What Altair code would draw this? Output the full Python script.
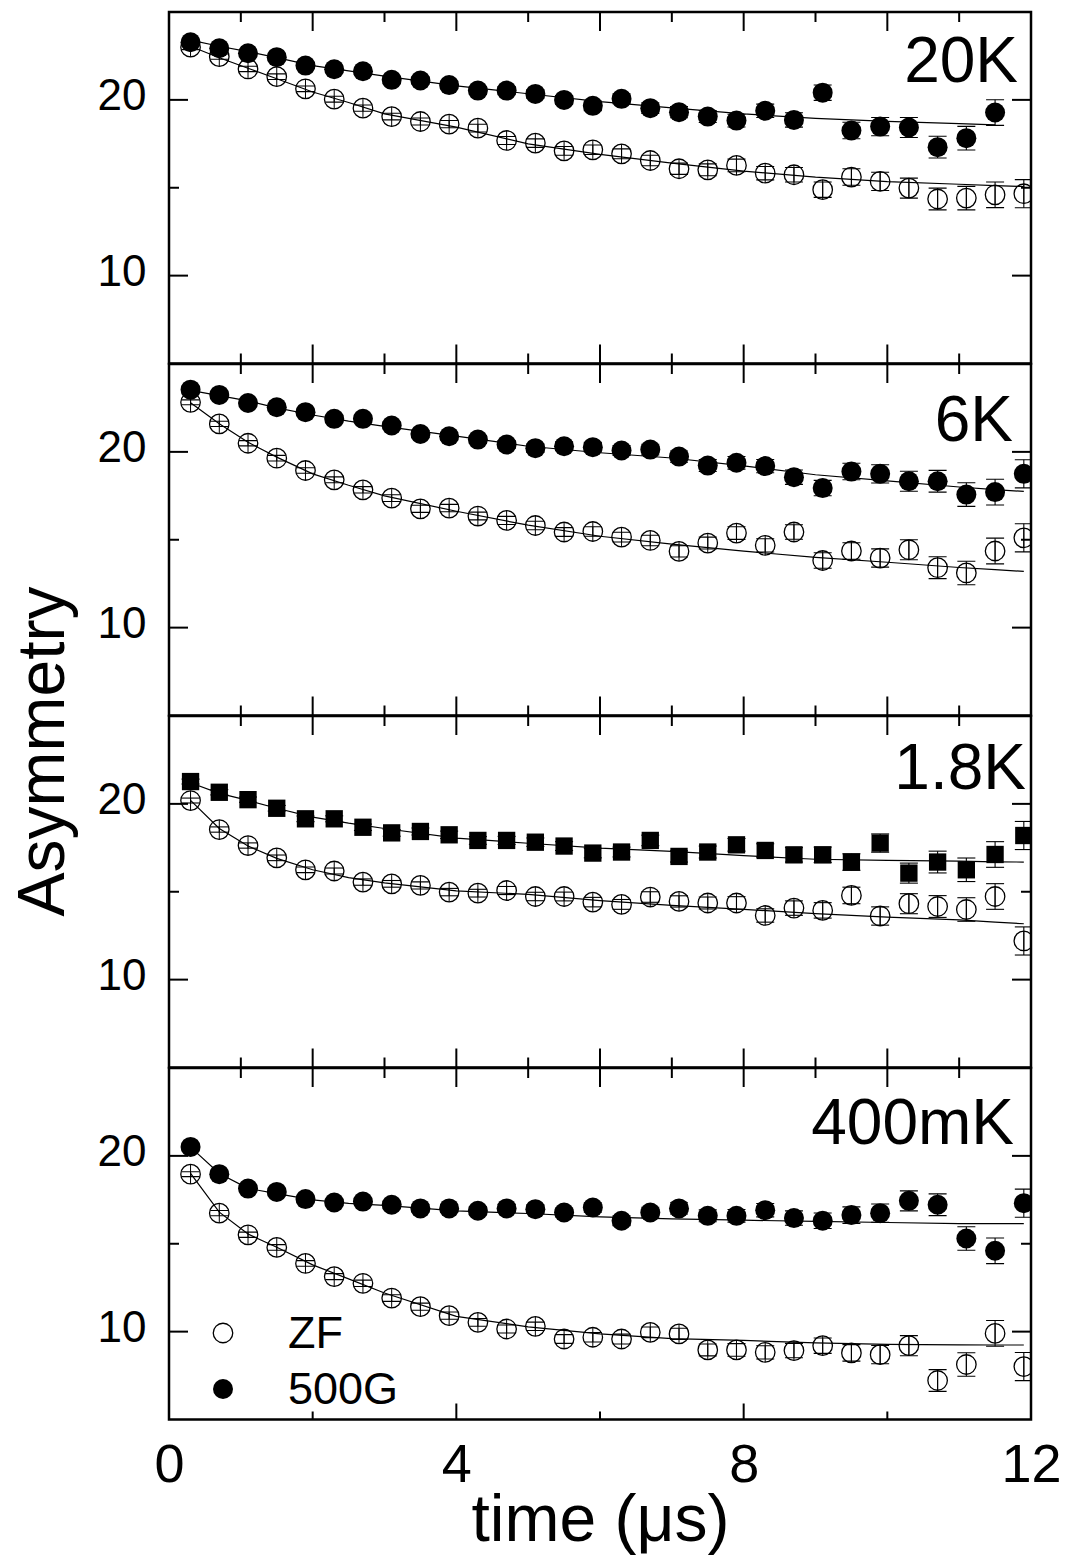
import altair as alt
import pandas as pd

# ---------------- data ----------------
time = [0.3, 0.7, 1.1, 1.5, 1.9, 2.3, 2.7, 3.1, 3.5, 3.9, 4.3, 4.7, 5.1, 5.5, 5.9,
        6.3, 6.7, 7.1, 7.5, 7.9, 8.3, 8.7, 9.1, 9.5, 9.9, 10.3, 10.7, 11.1, 11.5, 11.9]
err = [0.14, 0.15, 0.15, 0.16, 0.16, 0.17, 0.18, 0.19, 0.20, 0.21, 0.22, 0.23, 0.24, 0.25, 0.27,
       0.28, 0.30, 0.32, 0.34, 0.36, 0.38, 0.41, 0.44, 0.47, 0.52, 0.57, 0.62, 0.67, 0.73, 0.80]

zf_20K = [23.0, 22.46, 21.76, 21.32, 20.63, 20.04, 19.53, 19.05, 18.77, 18.62, 18.39, 17.69, 17.54, 17.10, 17.16,
          16.93, 16.55, 16.08, 16.02, 16.27, 15.83, 15.74, 14.89, 15.61, 15.36, 14.98, 14.36, 14.41, 14.60, 14.66]
lf_20K = [23.28, 22.94, 22.65, 22.43, 21.95, 21.74, 21.63, 21.14, 21.10, 20.84, 20.53, 20.53, 20.34, 20.0, 19.66,
          20.06, 19.53, 19.30, 19.05, 18.82, 19.38, 18.86, 20.41, 18.26, 18.48, 18.43, 17.31, 17.82, 19.28, None]

zf_6K = [22.82, 21.59, 20.49, 19.64, 18.94, 18.41, 17.84, 17.37, 16.76, 16.80, 16.35, 16.10, 15.81, 15.44, 15.47,
         15.15, 14.96, 14.34, 14.81, 15.38, 14.68, 15.44, 13.82, 14.36, 13.96, 14.43, 13.41, 13.11, 14.36, 15.11]
lf_6K = [23.54, 23.24, 22.78, 22.54, 22.26, 21.88, 21.88, 21.5, 21.02, 20.89, 20.70, 20.42, 20.21, 20.32, 20.27,
         20.08, 20.13, 19.73, 19.22, 19.38, 19.19, 18.56, 17.94, 18.88, 18.75, 18.33, 18.33, 17.57, 17.71, 18.75]

zf_1p8K = [20.19, 18.54, 17.63, 16.93, 16.25, 16.18, 15.55, 15.45, 15.36, 14.98, 14.92, 15.07, 14.73, 14.73, 14.41,
           14.28, 14.70, 14.45, 14.36, 14.36, 13.65, 14.07, 13.94, 14.79, 13.62, 14.32, 14.16, 13.99, 14.73, 12.2]
lf_1p8K = [21.27, 20.66, 20.24, 19.75, 19.15, 19.15, 18.67, 18.35, 18.43, 18.24, 17.92, 17.92, 17.82, 17.6, 17.2,
           17.26, 17.92, 17.01, 17.26, 17.67, 17.35, 17.1, 17.1, 16.69, 17.77, 16.06, 16.69, 16.25, 17.12, 18.2]

zf_400mK = [18.96, 16.74, 15.51, 14.79, 13.88, 13.13, 12.75, 11.91, 11.42, 10.91, 10.53, 10.15, 10.3, 9.58, 9.68,
            9.58, 9.96, 9.87, 8.96, 8.96, 8.82, 8.92, 9.2, 8.79, 8.69, 9.2, 7.22, 8.13, 9.9, 8.01]
lf_400mK = [20.51, 18.96, 18.14, 17.95, 17.54, 17.35, 17.4, 17.22, 17.01, 17.01, 16.88, 17.01, 16.97, 16.78, 17.06,
            16.31, 16.78, 17.01, 16.59, 16.59, 16.91, 16.46, 16.31, 16.63, 16.74, 17.44, 17.22, 15.30, 14.6, 17.31]

fit_t = [0.3, 0.7, 1.1, 1.5, 2, 2.5, 3, 4, 5, 6, 7, 8, 9, 10, 11, 11.5, 11.9]
fit_zf_20K = [23.05, 22.4, 21.8, 21.2, 20.45, 19.85, 19.2, 18.45, 17.5, 16.9, 16.4, 15.95, 15.6, 15.35, 15.2, 15.12, 15.07]
fit_lf_20K = [23.4, 23.05, 22.75, 22.4, 21.95, 21.65, 21.35, 20.8, 20.35, 19.9, 19.55, 19.2, 18.95, 18.78, 18.65, 18.58, None]
fit_zf_6K = [22.8, 21.6, 20.55, 19.7, 18.75, 18.1, 17.5, 16.62, 15.83, 15.2, 14.75, 14.35, 14.0, 13.72, 13.42, 13.3, 13.2]
fit_lf_6K = [23.5, 23.2, 22.9, 22.5, 22.1, 21.75, 21.45, 20.9, 20.32, 19.95, 19.65, 19.2, 18.7, 18.35, 18.0, 17.85, 17.75]
fit_zf_1p8K = [20.2, 18.6, 17.6, 16.9, 16.25, 15.8, 15.5, 15.05, 14.85, 14.5, 14.23, 14.0, 13.75, 13.56, 13.4, 13.27, 13.18]
fit_lf_1p8K = [21.2, 20.6, 20.2, 19.75, 19.25, 18.9, 18.6, 18.05, 17.76, 17.48, 17.3, 17.05, 16.85, 16.78, 16.74, 16.7, 16.69]
fit_zf_400mK = [19.0, 16.8, 15.55, 14.8, 13.8, 13.0, 12.2, 10.87, 10.27, 9.87, 9.6, 9.5, 9.36, 9.28, 9.25, 9.24, 9.24]
fit_lf_400mK = [20.5, 19.0, 18.15, 17.85, 17.5, 17.3, 17.18, 16.87, 16.72, 16.53, 16.42, 16.34, 16.27, 16.21, 16.15, 16.15, 16.15]

temps = ["20K", "6K", "1.8K", "400mK"]
legend_labels = ["ZF", "500G"]
x_labels = [0, 4, 8, 12]
y_labels = [10, 20]
x_major = [2, 4, 6, 8, 10]
x_minor = [1, 3, 5, 7, 9, 11]
x_major_bottom = [4, 8]
x_minor_bottom = [2, 6, 10]
y_major = [10, 20]
y_minor = [15]

# ---------------- styling ----------------
W, H = 862, 351.5
FONT = "Liberation Sans"
xs = alt.Scale(domain=[0, 12], nice=False, zero=False)
ys = alt.Scale(domain=[5, 25], nice=False, zero=False)


def series_frames(vals):
    rows = [(t, v, e) for t, v, e in zip(time, vals, err) if v is not None]
    pts = pd.DataFrame({"t": [r[0] for r in rows], "v": [r[1] for r in rows]})
    bars = pd.DataFrame({"t": [r[0] for r in rows],
                         "v": [r[1] - r[2] for r in rows],
                         "v2": [r[1] + r[2] for r in rows]})
    caps = pd.concat([
        pd.DataFrame({"t": bars["t"], "v": bars["v"]}),
        pd.DataFrame({"t": bars["t"], "v": bars["v2"]}),
    ], ignore_index=True)
    return pts, bars, caps


def make_panel(i, zf, lf, fzf, flf, lf_shape, lf_size, bottom, with_title, with_legend, lab_dx, lab_dy):
    if bottom:
        xaxis = alt.Axis(values=x_labels, labelFontSize=54, labelFont=FONT, labelColor="black",
                         ticks=False, tickSize=0, domain=False, grid=False, labelPadding=19,
                         labelFlush=False, labelOverlap=False, labelBound=False,
                         title="time (μs)", titleFont=FONT, titleFontSize=66, titleFontWeight="normal",
                         titleColor="black", titleY=121, titleBaseline="alphabetic")
    else:
        xaxis = None
    ykw = dict(values=y_labels, labelFontSize=44, labelFont=FONT, labelColor="black",
               ticks=False, tickSize=0, domain=False, grid=False, labelPadding=23, labelOffset=-3)
    if with_title:
        ykw.update(title="Asymmetry", titleFont=FONT, titleFontSize=66, titleFontWeight="normal",
                   titleColor="black", titleAngle=270, titleX=-106, titleY=35,
                   titleBaseline="alphabetic", titleAlign="center")
    else:
        ykw.update(title=None)
    yaxis = alt.Axis(**ykw)
    X = alt.X("t:Q", scale=xs, axis=xaxis)
    Y = alt.Y("v:Q", scale=ys, axis=yaxis)

    zpts, zbars, zcaps = series_frames(zf)
    lpts, lbars, lcaps = series_frames(lf)
    fit_rows = [(t, v, "ZF") for t, v in zip(fit_t, fzf) if v is not None] + \
               [(t, v, "500G") for t, v in zip(fit_t, flf) if v is not None]
    fit_df = pd.DataFrame(fit_rows, columns=["t", "v", "s"])

    layers = []
    layers.append(alt.Chart(fit_df).mark_line(color="black", strokeWidth=1.2, clip=True)
                  .encode(x=X, y=Y, detail="s:N"))
    for bars, caps in ((zbars, zcaps), (lbars, lcaps)):
        layers.append(alt.Chart(bars).mark_rule(color="black", strokeWidth=1.1, clip=True)
                      .encode(x=X, y=Y, y2="v2:Q"))
        layers.append(alt.Chart(caps).mark_tick(color="black", orient="horizontal", size=18,
                                                thickness=1.1, opacity=1, clip=True)
                      .encode(x=X, y=Y))
    layers.append(alt.Chart(zpts).mark_point(shape="M0,-1L0,1", filled=False, size=380, color="black",
                                             strokeWidth=1, opacity=1, clip=True)
                  .encode(x=X, y=Y))
    layers.append(alt.Chart(zpts).mark_point(shape="circle", filled=False, size=380, color="black",
                                             strokeWidth=1.3, opacity=1, clip=True)
                  .encode(x=X, y=Y))
    layers.append(alt.Chart(lpts).mark_point(shape=lf_shape, filled=True, size=lf_size, color="black",
                                             opacity=1, clip=True)
                  .encode(x=X, y=Y))

    # inward ticks drawn from tick lists through the scales
    def xt(vals, length, top):
        df = pd.DataFrame({"t": vals})
        if top:
            yy, yy2 = alt.value(0), alt.value(length)
        else:
            yy, yy2 = alt.value(H), alt.value(H - length)
        return alt.Chart(df).mark_rule(color="black", strokeWidth=2).encode(x=X, y=yy, y2=yy2)

    def yt(vals, length, left):
        df = pd.DataFrame({"v": vals})
        if left:
            xx, xx2 = alt.value(0), alt.value(length)
        else:
            xx, xx2 = alt.value(W), alt.value(W - length)
        return alt.Chart(df).mark_rule(color="black", strokeWidth=2).encode(y=Y, x=xx, x2=xx2)

    layers += [xt(x_major, 19, True), xt(x_minor, 10, True)]
    if bottom:
        layers += [xt(x_major_bottom, 16, False), xt(x_minor_bottom, 8, False)]
    else:
        layers += [xt(x_major, 19, False), xt(x_minor, 10, False)]
    layers += [yt(y_major, 19, True), yt(y_minor, 10, True), yt(y_major, 19, False), yt(y_minor, 10, False)]

    layers.append(alt.Chart(pd.DataFrame({"label": [temps[i]]}))
                  .mark_text(align="right", baseline="alphabetic", fontSize=64, font=FONT, color="black")
                  .encode(x=alt.value(W - lab_dx), y=alt.value(lab_dy), text="label:N"))

    if with_legend:
        layers.append(alt.Chart(pd.DataFrame({"label": [legend_labels[0]]}))
                      .mark_point(shape="circle", filled=False, size=380, color="black", strokeWidth=1.3, opacity=1)
                      .encode(x=alt.value(54), y=alt.value(265)))
        layers.append(alt.Chart(pd.DataFrame({"label": [legend_labels[1]]}))
                      .mark_point(shape="circle", filled=True, size=400, color="black", opacity=1)
                      .encode(x=alt.value(54), y=alt.value(321)))
        layers.append(alt.Chart(pd.DataFrame({"label": [legend_labels[0]]}))
                      .mark_text(align="left", baseline="alphabetic", fontSize=45, font=FONT, color="black")
                      .encode(x=alt.value(119), y=alt.value(280), text="label:N"))
        layers.append(alt.Chart(pd.DataFrame({"label": [legend_labels[1]]}))
                      .mark_text(align="left", baseline="alphabetic", fontSize=45, font=FONT, color="black")
                      .encode(x=alt.value(119), y=alt.value(336), text="label:N"))

    return alt.layer(*layers).properties(width=W, height=H)


p1 = make_panel(0, zf_20K, lf_20K, fit_zf_20K, fit_lf_20K, "circle", 400, False, False, False, 13, 70)
p2 = make_panel(1, zf_6K, lf_6K, fit_zf_6K, fit_lf_6K, "circle", 400, False, False, False, 18, 77)
p3 = make_panel(2, zf_1p8K, lf_1p8K, fit_zf_1p8K, fit_lf_1p8K, "square", 300, False, True, False, 5, 73)
p4 = make_panel(3, zf_400mK, lf_400mK, fit_zf_400mK, fit_lf_400mK, "circle", 400, True, False, True, 17, 76)

chart = (
    alt.vconcat(p1, p2, p3, p4, spacing=0, bounds="flush")
    .properties(padding={"left": 8, "top": 9, "right": 2, "bottom": 0}, background="white")
    .configure_view(stroke="black", strokeWidth=2.5)
)

chart.save("out.html", embed_options={"renderer": "svg", "actions": False})
